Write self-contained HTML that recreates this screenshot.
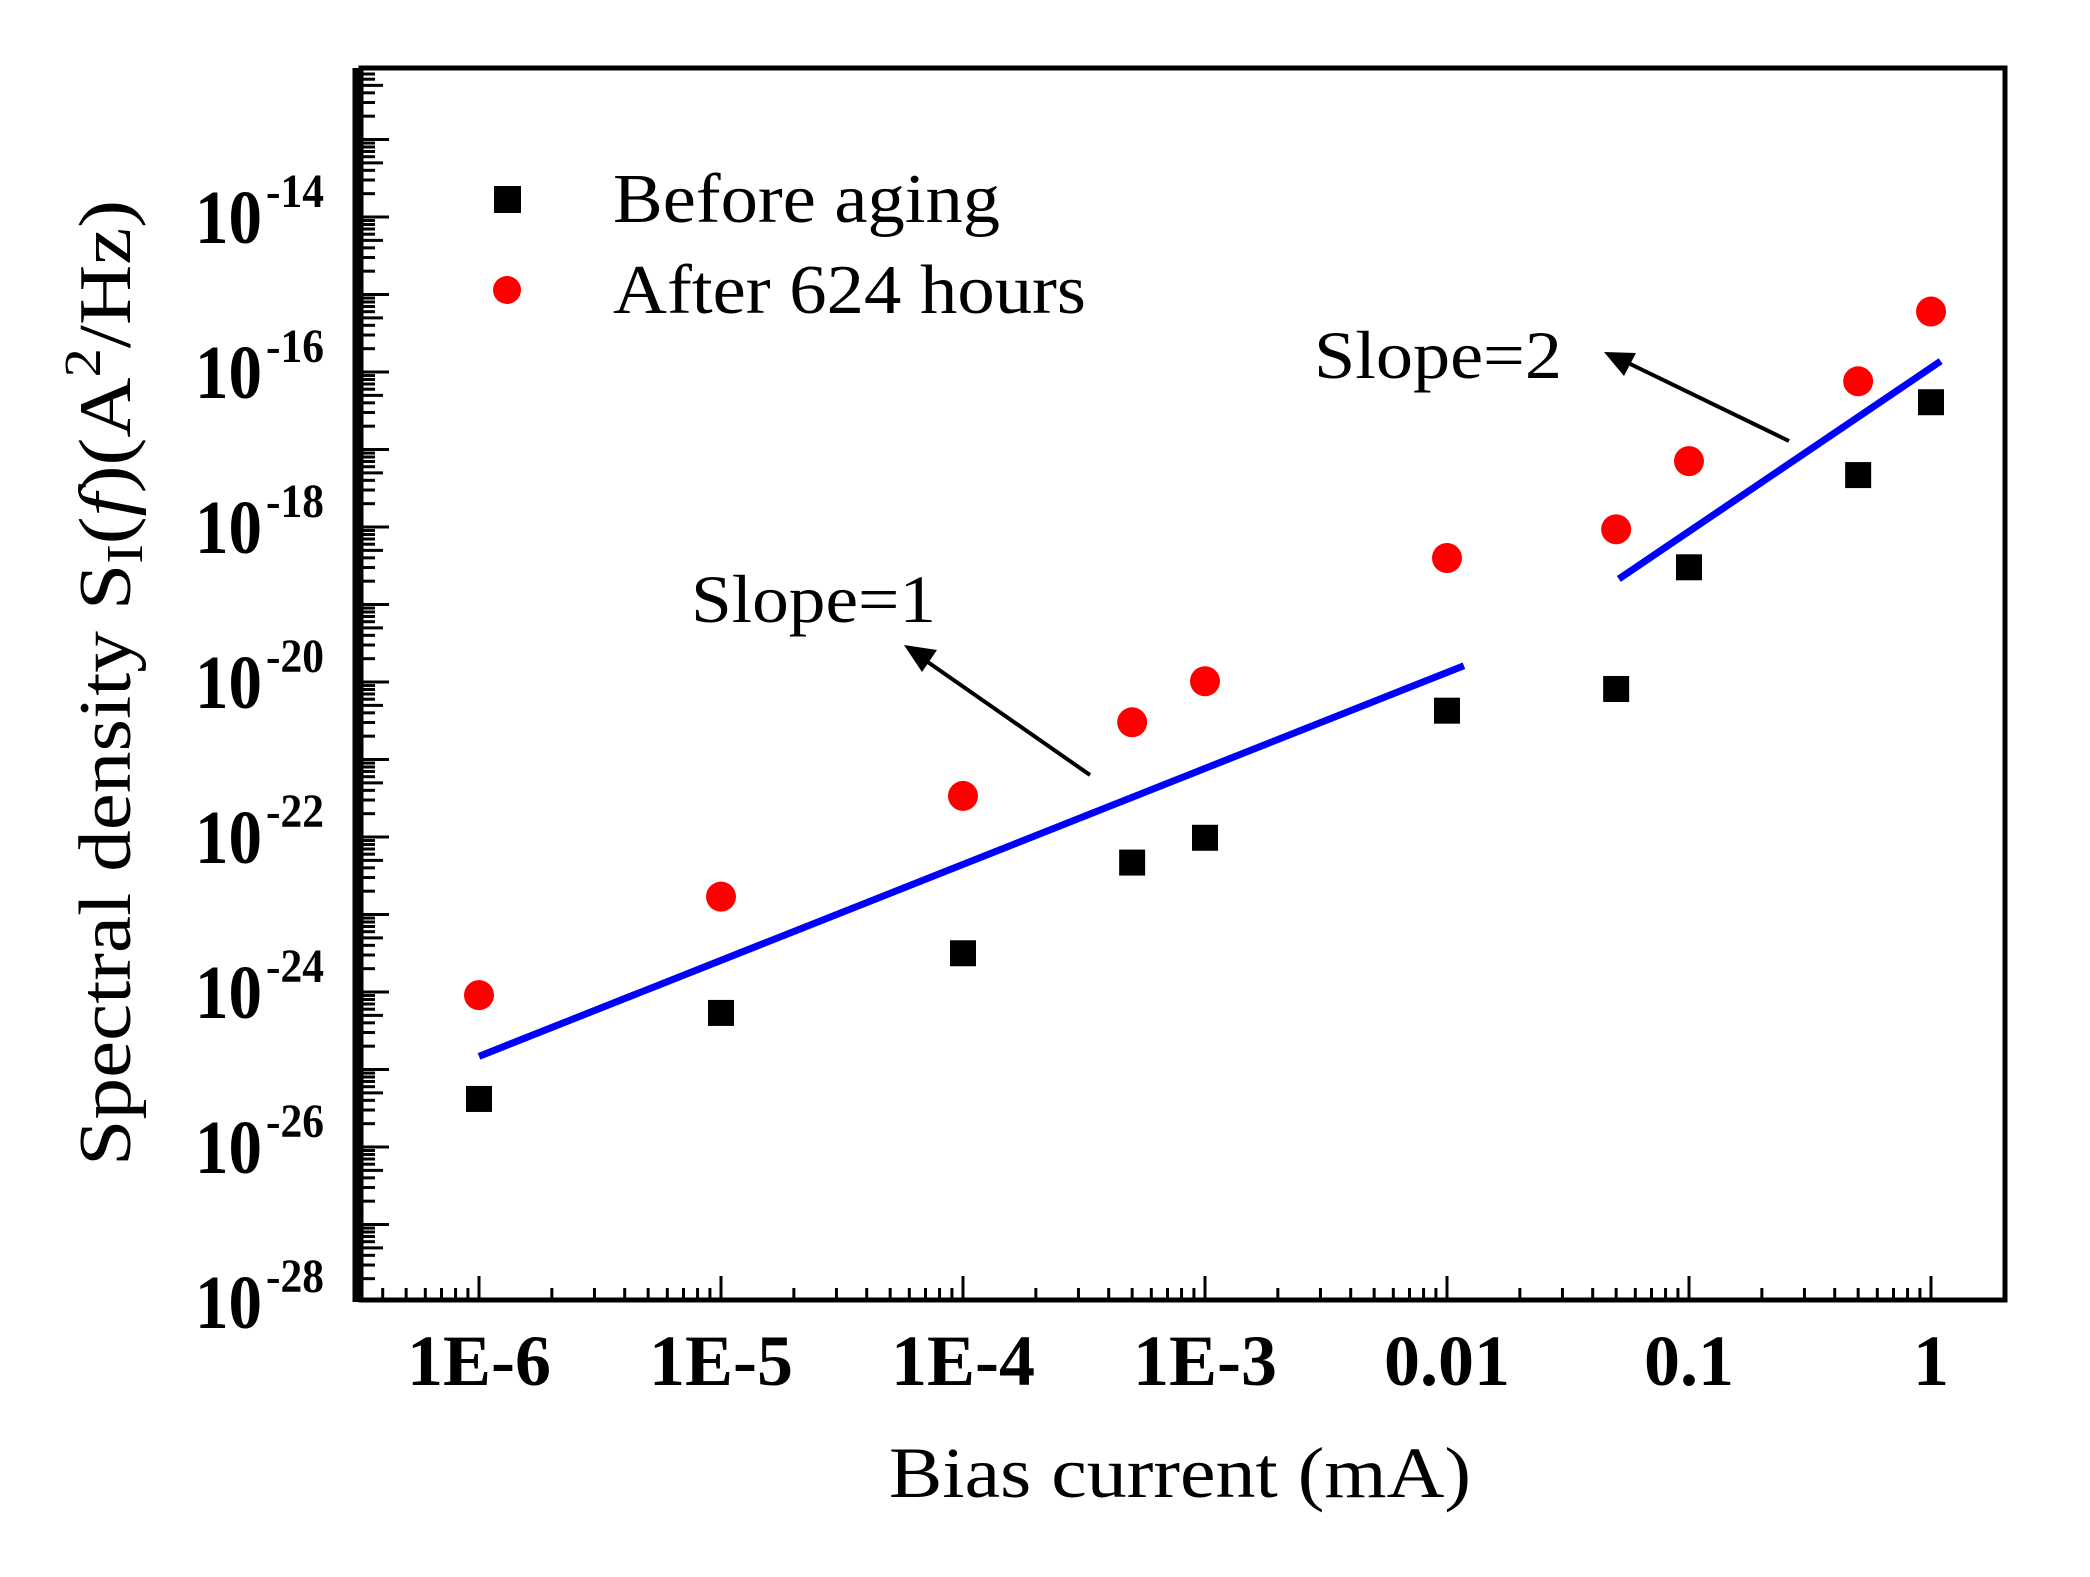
<!DOCTYPE html>
<html><head><meta charset="utf-8"><style>
html,body{margin:0;padding:0;background:#fff;}
svg{display:block;font-family:"Liberation Serif",serif;}
</style></head><body>
<svg id="chart" width="2090" height="1577" viewBox="0 0 2090 1577" xmlns="http://www.w3.org/2000/svg">
<rect x="0" y="0" width="2090" height="1577" fill="#fff"/>
<g id="ticks"></g>
<g id="fits"></g>
<g id="marks"></g>
<rect x="361" y="68" width="1644" height="1232" fill="none" stroke="#000" stroke-width="5"/>
<line x1="357" y1="68" x2="357" y2="1302" stroke="#000" stroke-width="9"/>
<g>
<rect x="494" y="186" width="27" height="27" fill="#000"/>
<text x="613" y="222" font-size="70" textLength="387" lengthAdjust="spacingAndGlyphs">Before aging</text>
<circle cx="507" cy="290" r="14" fill="#f00"/>
<text x="613" y="313" font-size="70" textLength="473" lengthAdjust="spacingAndGlyphs">After 624 hours</text>
</g>
<text x="691" y="622" font-size="68" textLength="245" lengthAdjust="spacingAndGlyphs">Slope=1</text>
<text x="1314" y="378" font-size="68" textLength="248" lengthAdjust="spacingAndGlyphs">Slope=2</text>
<line x1="1090" y1="775" x2="922" y2="658" stroke="#000" stroke-width="4"/>
<polygon points="904,645 937,650 922,672" fill="#000"/>
<line x1="1789" y1="441" x2="1622" y2="360" stroke="#000" stroke-width="4"/>
<polygon points="1604,352 1636,353 1624,376" fill="#000"/>
<text x="1180" y="1497" font-size="72" text-anchor="middle" textLength="582" lengthAdjust="spacingAndGlyphs">Bias current (mA)</text>
<text transform="translate(130,683) rotate(-90)" font-size="74" text-anchor="middle" textLength="966" lengthAdjust="spacingAndGlyphs">Spectral density S<tspan font-size="52" dy="12">I</tspan><tspan dy="-12">(</tspan><tspan font-style="italic">f</tspan>)(A<tspan font-size="52" dy="-30">2</tspan><tspan dy="30">/Hz)</tspan></text>
</svg>
<script>
const xCategories = [-6,-5,-4,Math.log10(5e-4),-3,-2,Math.log10(0.05),-1,Math.log10(0.5),0];
const beforeAging = [-25.38,-24.27,-23.5,-22.33,-22.01,-20.37,-20.09,-18.52,-17.33,-16.39];
const after624 = [-24.04,-22.77,-21.47,-20.52,-19.99,-18.4,-18.03,-17.15,-16.12,-15.22];
const fit1X = [-6,-1.93];
const fit1Y = [-24.83,-19.79];
const fit2X = [-1.29,0.04];
const fit2Y = [-18.67,-15.86];
const xTickLabels = ["1E-6","1E-5","1E-4","1E-3","0.01","0.1","1"];
const xTickExps = [-6,-5,-4,-3,-2,-1,0];
const yTickExps = [-14,-16,-18,-20,-22,-24,-26,-28];

const NS="http://www.w3.org/2000/svg";
function X(e){return 479+(e+6)*242;}
function Y(e){return 217+(-14-e)*77.5;}
function mk(tag,attrs,parent){const el=document.createElementNS(NS,tag);for(const k in attrs)el.setAttribute(k,attrs[k]);parent.appendChild(el);return el;}
const ticks=document.getElementById('ticks');
const marks=document.getElementById('marks');
const fits=document.getElementById('fits');
const svg=document.getElementById('chart');
for(let d=-7;d<=0;d++){
  for(let m=1;m<=9;m++){
    const e=d+Math.log10(m);
    const x=X(e);
    if(x<362||x>2003)continue;
    const len=m===1?24:12;
    const t=mk('line',{x1:x,y1:1300,x2:x,y2:1300-len,stroke:'#000','stroke-width':3},ticks);
    
    
  }
}
for(let d=-28;d<=-12;d++){
  for(let m=1;m<=9;m++){
    const e=d+Math.log10(m);
    const y=Y(e);
    if(y<70||y>1299)continue;
    const len=m===1?28:(m===5?22:14);
    const t=mk('line',{x1:361,y1:y,x2:361+len,y2:y,stroke:'#000','stroke-width':3},ticks);
    
    
  }
}
xTickExps.forEach((e,i)=>{
  const t=mk('text',{x:X(e),y:1385,'font-size':72,'font-weight':'bold','text-anchor':'middle'},svg);
  t.textContent=xTickLabels[i];
  
  
});
yTickExps.forEach(e=>{
  const y=Y(e);
  const t=mk('text',{x:195,y:y+26,'font-size':76,'font-weight':'bold',textLength:67,lengthAdjust:'spacingAndGlyphs'},svg);
  t.textContent='10';
  
  
  const s=mk('text',{x:266,y:y-10,'font-size':48,'font-weight':'bold',textLength:58,lengthAdjust:'spacingAndGlyphs'},svg);
  s.textContent='-'+(-e);
  
  
});
const l1=mk('line',{x1:X(fit1X[0]),y1:Y(fit1Y[0]),x2:X(fit1X[1]),y2:Y(fit1Y[1]),stroke:'#0000ff','stroke-width':7},fits);


const l2=mk('line',{x1:X(fit2X[0]),y1:Y(fit2Y[0]),x2:X(fit2X[1]),y2:Y(fit2Y[1]),stroke:'#0000ff','stroke-width':7},fits);


xCategories.forEach((e,i)=>{
  const r=mk('rect',{x:X(e)-13,y:Y(beforeAging[i])-13,width:26,height:26,fill:'#000'},marks);
  
  
  const c=mk('circle',{cx:X(e),cy:Y(after624[i]),r:15,fill:'#ff0000'},marks);
  
  
});
</script>
</body></html>
